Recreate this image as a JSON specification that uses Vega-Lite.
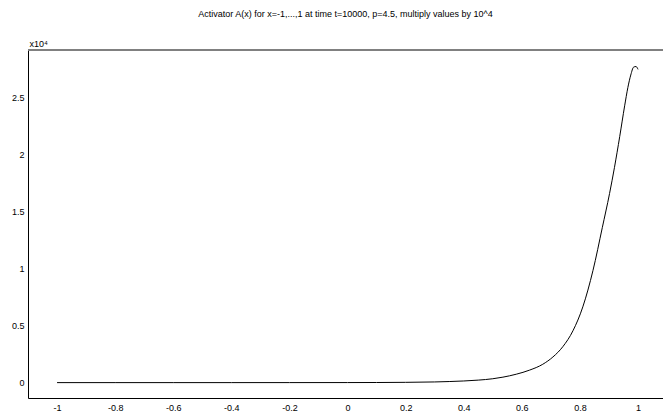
{
  "$schema": "https://vega.github.io/schema/vega-lite/v6.json",
  "autosize": "none",
  "width": 635,
  "height": 348,
  "padding": {"left": 28, "top": 50, "right": 0, "bottom": 14},
  "background": "white",
  "view": {"stroke": null},
  "config": {"font": "Liberation Sans"},
  "title": {"text": "Activator A(x) for x=-1,...,1 at time t=10000, p=4.5, multiply values by 10^4", "fontSize": 9, "fontWeight": "normal", "font": "Liberation Sans", "color": "#000", "anchor": "middle", "frame": "group", "offset": 20},
  "data": {"values": [
    {"x": -1.0, "a": 0},
    {"x": -0.8, "a": 0},
    {"x": -0.6, "a": 0},
    {"x": -0.4, "a": 1},
    {"x": -0.2, "a": 2},
    {"x": 0.0, "a": 5},
    {"x": 0.1, "a": 10},
    {"x": 0.2, "a": 25},
    {"x": 0.3, "a": 60},
    {"x": 0.35, "a": 95},
    {"x": 0.4, "a": 145},
    {"x": 0.45, "a": 220},
    {"x": 0.5, "a": 340},
    {"x": 0.535, "a": 480},
    {"x": 0.581, "a": 740},
    {"x": 0.627, "a": 1100},
    {"x": 0.672, "a": 1610},
    {"x": 0.707, "a": 2250},
    {"x": 0.741, "a": 3150},
    {"x": 0.776, "a": 4550},
    {"x": 0.81, "a": 6650},
    {"x": 0.845, "a": 9850},
    {"x": 0.877, "a": 13600},
    {"x": 0.902, "a": 16600},
    {"x": 0.919, "a": 18900},
    {"x": 0.937, "a": 21600},
    {"x": 0.954, "a": 24300},
    {"x": 0.965, "a": 25900},
    {"x": 0.975, "a": 27000},
    {"x": 0.985, "a": 27700},
    {"x": 0.993, "a": 27750},
    {"x": 1.0, "a": 27500}
  ]},
  "layer": [
    {
      "mark": {"type": "line", "color": "#000", "strokeWidth": 1, "interpolate": "monotone"},
      "encoding": {
        "x": {"field": "x", "type": "quantitative", "scale": {"domain": [-1.1, 1.086], "nice": false, "zero": false},
          "axis": {"values": [-1, -0.8, -0.6, -0.4, -0.2, 0, 0.2, 0.4, 0.6, 0.8, 1], "title": null, "grid": false, "ticks": false, "labelPadding": 5, "labelFontSize": 9, "labelColor": "#000", "domainColor": "#000", "labelFlush": false, "labelExpr": "replace(format(datum.value, '~g'), '\u2212', '-')"}},
        "y": {"field": "a", "type": "quantitative", "scale": {"domain": [-1350, 29200], "nice": false, "zero": false},
          "axis": {"values": [0, 5000, 10000, 15000, 20000, 25000], "labelExpr": "format(datum.value / 10000, '~g')", "title": "x10\u2074", "titleAngle": 0, "titleAlign": "left", "titleBaseline": "bottom", "titleX": 1, "titleY": -2, "titleFontSize": 9, "titleFontWeight": "normal", "titleColor": "#000", "grid": false, "ticks": false, "labelPadding": 4, "labelFontSize": 9, "labelColor": "#000", "domainColor": "#000"}}
      }
    },
    {
      "mark": {"type": "rule", "color": "#808080", "strokeWidth": 1.5},
      "encoding": {"y": {"datum": 29200}}
    }
  ]
}
